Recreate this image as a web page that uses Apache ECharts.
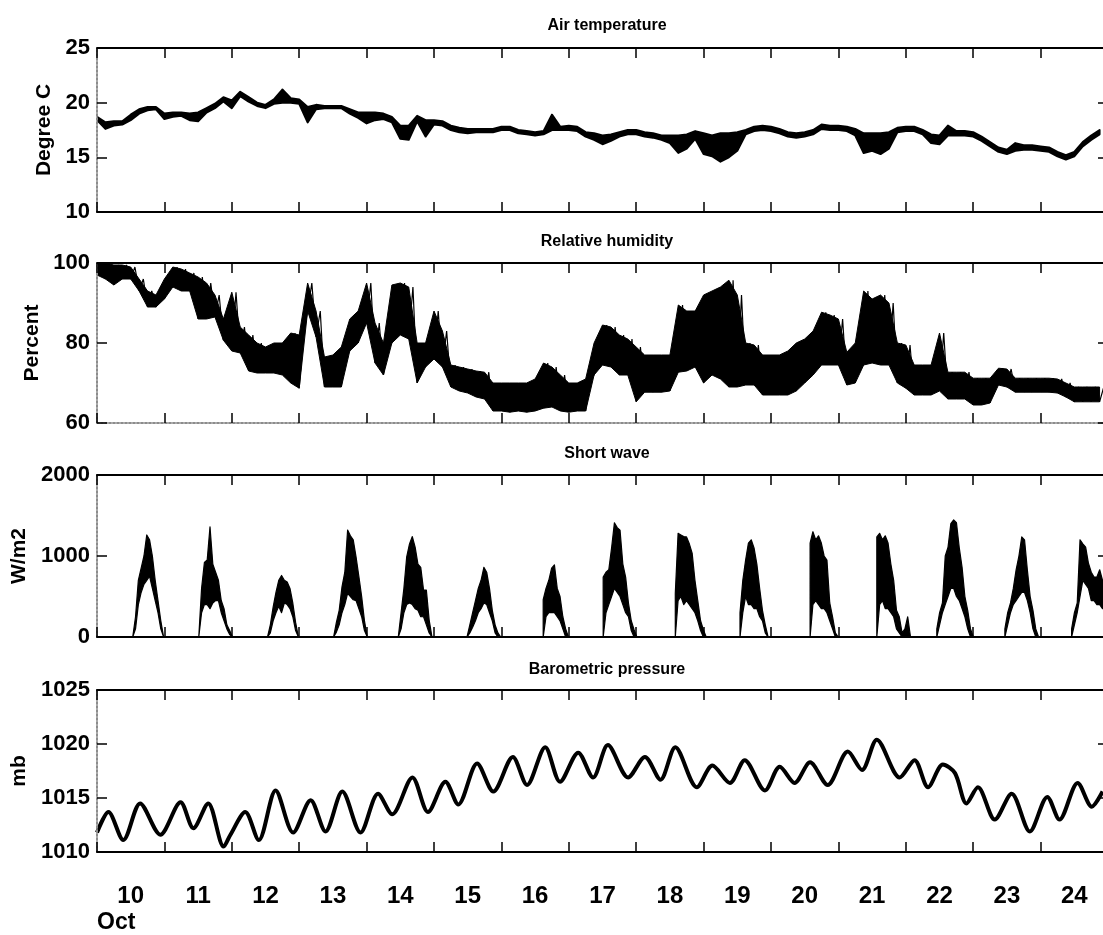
<!DOCTYPE html>
<html><head><meta charset="utf-8">
<script src="https://cdn.jsdelivr.net/npm/echarts/dist/echarts.min.js"></script>
<style>html,body{margin:0;padding:0;background:#fff}#c{width:1103px;height:935px}</style>
</head><body><div id="c"></div>
<script>
// ---------------- data ----------------
const panelTitles = ['Air temperature', 'Relative humidity', 'Short wave', 'Barometric pressure'];
const yNames = ['Degree C', 'Percent', 'W/m2', 'mb'];
const dayLabels = ['10','11','12','13','14','15','16','17','18','19','20','21','22','23','24'];
const monthLabel = 'Oct';

// time in days of October; samples every 3 h starting Oct 10 00:00
const sampleStartDay = 10;
const sampleStepHours = 3;

// Air temperature, lower / upper edge of the trace per 3-h sample (deg C)
const tempLo = [18.4,17.6,17.9,18.0,18.4,19.0,19.3,19.4,18.5,18.7,
  18.8,18.4,18.3,19.1,19.5,20.1,19.5,20.6,20.1,19.7,
  19.5,19.9,20.0,20.0,19.9,18.2,19.4,19.5,19.5,19.5,
  19.0,18.6,18.1,18.4,18.5,18.2,16.7,16.6,18.3,16.9,
  18.0,17.9,17.5,17.3,17.2,17.3,17.3,17.3,17.5,17.5,
  17.2,17.1,17.0,17.1,17.5,17.5,17.5,17.4,16.9,16.6,
  16.2,16.5,16.9,17.1,17.1,16.9,16.8,16.6,16.3,15.4,
  15.8,16.7,15.3,15.1,14.6,15.0,15.6,17.1,17.4,17.5,
  17.4,17.2,16.9,16.8,16.9,17.1,17.6,17.5,17.5,17.4,
  17.0,15.4,15.6,15.3,15.8,17.3,17.4,17.4,17.1,16.3,
  16.2,17.0,17.0,17.0,16.9,16.5,16.0,15.5,15.3,15.6,
  15.7,15.7,15.6,15.5,15.1,14.8,15.1,16.0,16.6,17.1];
const tempHi = [18.7,18.2,18.3,18.3,18.9,19.4,19.6,19.6,19.0,19.1,
  19.1,19.0,19.1,19.5,19.9,20.5,20.2,21.0,20.5,20.0,
  19.8,20.3,21.2,20.4,20.3,19.6,19.8,19.7,19.7,19.7,
  19.4,19.1,19.1,19.1,19.0,18.7,17.9,17.9,18.8,18.4,
  18.4,18.3,17.9,17.7,17.6,17.6,17.6,17.6,17.8,17.8,
  17.5,17.4,17.3,17.4,18.9,17.8,17.9,17.8,17.3,17.2,
  17.0,17.1,17.3,17.5,17.5,17.3,17.2,17.0,17.0,17.0,
  17.1,17.4,17.2,17.0,17.2,17.2,17.3,17.5,17.8,17.9,
  17.8,17.6,17.3,17.2,17.3,17.5,18.0,17.9,17.9,17.8,
  17.6,17.2,17.2,17.2,17.3,17.7,17.8,17.8,17.5,17.1,
  17.0,17.9,17.4,17.4,17.3,16.9,16.4,15.9,15.7,16.3,
  16.1,16.1,16.0,15.9,15.5,15.2,15.5,16.4,17.0,17.5];

// Relative humidity, lower / upper edge per 3-h sample (%)
const humLo = [97,96,94.5,96,96,93,89,89,91,94,
  93,93,86,86,86.5,80.7,78,77.5,73,72.5,
  72.5,72.5,72,70,68.7,88,81.5,69,69,69,
  78,80,85,75,72,80,82,81,70,74,
  76,74,69,68,67.5,66.5,66,63,63,62.7,
  63,62.7,63,63.7,64,63,62.7,63,63,72,
  74.5,74,72,72,65.3,67.7,67.7,67.7,68,72.7,
  73,74,70,72,71,69,69,69.5,69.5,67,
  67,67,67,68,70,72,74.5,74.5,74.5,69.5,
  70,74.5,75,74.5,74.5,70,68.7,67,67,67,
  68,66,66,66,64.5,64.5,65,69.5,69,67.7,
  67.7,67.7,67.7,67.7,67.5,66.5,65.3,65.3,65.3,65.3];
const humHi = [100,100,99.5,99.5,99,96,93,92,96,99,
  98.5,97.5,96.5,95,92,86,92.7,84,82,80,
  79,80,80,82.5,82,95,88,76.5,77,79,
  86,88,95,85,80,94.5,95,94,80,80,
  88,83,74.5,74,73.5,73,72.7,70,70,70,
  70,70,71,75,74,72,70,70,71,80,
  84.5,84,82,81,79,77,77,77,77,89.5,
  88,88,92,93,94,95.7,92,80,79.5,77,
  77,77,78,80,81,83,87.7,87,86,77.7,
  80,93,91,92,90,80,79.5,74.5,74.5,74.5,
  82.5,72.7,72.7,72.7,71.2,71.2,71.2,73.7,73.5,71.2,
  71.2,71.2,71.2,71.2,71,70,69,69,69,69];

// Short wave: sunrise time of each day and hourly lower / upper edge (W/m2)
const swRise = [10.53,11.51,12.53,13.51,14.47,15.49,16.62,17.51,18.58,19.54,20.58,21.57,22.46,23.47,24.46];
const swHi = [
  [0,250,700,850,1000,1260,1200,1000,700,450,200,0],
  [0,600,920,950,1360,900,800,700,450,350,150,80,0],
  [0,150,370,550,700,760,700,680,600,420,180,0],
  [0,180,330,620,800,1320,1250,1200,990,750,500,200,0],
  [0,300,600,990,1150,1240,1110,900,860,580,580,210,0],
  [0,150,300,450,600,700,860,800,600,330,150,50,0],
  [460,600,700,850,890,600,500,250,100,0],
  [740,800,830,1100,1410,1350,1320,900,740,420,200,90,0],
  [540,1280,1260,1240,1235,1150,1035,700,450,200,90,0],
  [300,700,950,1160,1200,1100,900,600,330,150,0],
  [1160,1300,1200,1250,1160,1000,950,420,250,50,0],
  [1235,1280,1200,1250,1160,900,700,330,250,50,100,250,0],
  [100,300,420,1000,1110,1400,1445,1410,1100,860,500,330,100,0],
  [100,300,420,600,830,1000,1235,1200,830,500,330,100,0],
  [100,300,420,1200,1150,1110,910,800,740,740,830,700]
];
const swLo = [
  [0,100,400,550,650,700,750,600,450,300,100,0],
  [0,300,400,400,350,420,450,450,300,200,100,30,0],
  [0,50,200,300,380,300,420,400,350,250,80,0],
  [0,60,150,300,400,540,500,460,450,350,250,80,0],
  [0,100,300,400,420,400,350,330,250,250,150,50,0],
  [0,50,120,200,300,350,420,400,300,200,50,0,0],
  [0,250,300,300,300,250,200,100,0,0],
  [0,300,400,500,600,550,500,400,300,250,80,0,0],
  [0,450,500,400,450,400,350,300,200,80,0,0],
  [0,300,500,400,400,350,350,250,200,50,0],
  [0,400,450,400,350,350,300,200,100,0,0],
  [0,400,450,350,350,300,250,100,50,0,0,0,0],
  [0,150,300,400,500,600,600,500,450,350,250,100,0,0],
  [0,150,300,400,450,500,550,550,450,300,100,0,0],
  [0,150,300,500,700,650,600,450,450,400,400,350]
];

// Barometric pressure: turning points of the trace (day, mb)
const pressTime = [10.0,10.17,10.39,10.64,10.94,11.24,11.43,11.65,11.88,11.98,
  12.20,12.40,12.65,12.91,13.17,13.39,13.64,13.91,14.17,14.38,
  14.68,14.91,15.17,15.36,15.64,15.88,16.17,16.38,16.65,16.87,
  17.14,17.36,17.58,17.88,18.13,18.36,18.58,18.90,19.13,19.39,
  19.61,19.91,20.13,20.35,20.58,20.84,21.14,21.35,21.57,21.91,
  22.13,22.33,22.55,22.73,22.90,23.07,23.32,23.57,23.84,24.10,
  24.28,24.55,24.76,24.92];
const pressVal = [1011.8,1013.7,1011.1,1014.5,1011.6,1014.6,1012.2,1014.5,1010.5,1011.6,
  1013.7,1011.1,1015.7,1011.8,1014.8,1011.9,1015.6,1011.8,1015.4,1013.5,
  1016.9,1013.7,1016.5,1014.4,1018.2,1015.6,1018.8,1016.2,1019.7,1016.5,
  1019.2,1016.9,1019.9,1016.9,1018.8,1016.7,1019.7,1016.0,1018.0,1016.4,
  1018.5,1015.7,1017.9,1016.4,1018.3,1016.2,1019.3,1017.6,1020.4,1016.9,
  1018.5,1016.0,1018.1,1017.3,1014.5,1016.0,1013.0,1015.4,1011.9,1015.1,
  1013.0,1016.4,1014.2,1015.6];

// y axis ranges
const yMin = [10, 60, 0, 1010];
const yMax = [25, 100, 2000, 1025];
const yStep = [5, 20, 1000, 5];

// ---------------- build ----------------
const step = sampleStepHours / 24;
const sampleTimes = tempLo.map((_, i) => sampleStartDay + i * step);

function edgeTrace(lo, hi, start, stepDays) {
  const out = [];
  for (let i = 0; i < lo.length; i++) {
    out.push([start + i * stepDays, lo[i]]);
    out.push([start + (i + 0.5) * stepDays, hi[i]]);
  }
  return out;
}

// short wave: all samples in one list (night = 0, zero at each sunrise)
const swT = [sampleStartDay], swL = [0], swH = [0];
for (let d = 0; d < swRise.length; d++) {
  swT.push(swRise[d]); swL.push(0); swH.push(0);
  for (let k = 0; k < swLo[d].length; k++) {
    swT.push(swRise[d] + k / 24);
    swL.push(swLo[d][k]);
    swH.push(swHi[d][k]);
  }
}

const FONT = '"Liberation Sans", Arial, Helvetica, sans-serif';
const gridTops = [48, 263, 475, 690];
const gridHeights = [164, 160, 162, 162];
const nameGaps = [40, 52, 63, 64];
const titleTops = [13, 229, 441, 657];
const leftLine = {color: '#8c8c8c', width: 2, type: 'dotted'};
const blackLine = {color: '#000', width: 2};

const grids = gridTops.map((t, i) => ({
  left: 97, top: t, width: 1011, height: gridHeights[i],
  containLabel: false, outerBoundsMode: 'none'
}));
const xAxes = [];
const yAxes = [];
for (let p = 0; p < 4; p++) {
  ['bottom', 'top'].forEach(pos => {
    xAxes.push({
      gridIndex: p, type: 'value', min: 10, max: 25, interval: 1, position: pos, z: 5,
      axisLine: {onZero: false, lineStyle: (p === 1 && pos === 'bottom') ? leftLine : blackLine},
      axisTick: {inside: true, length: 10, lineStyle: {color: '#000', width: 1.5}},
      axisLabel: {show: false}, splitLine: {show: false}
    });
  });
  yAxes.push({
    gridIndex: p, type: 'value', min: yMin[p], max: yMax[p], interval: yStep[p], position: 'left', z: 5,
    name: yNames[p], nameLocation: 'middle', nameGap: nameGaps[p], nameRotate: 90,
    nameTextStyle: {fontSize: 21, fontWeight: 'bold', color: '#000', fontFamily: FONT},
    axisLine: {show: true, onZero: false, lineStyle: leftLine},
    axisTick: {show: true, inside: true, length: 10, lineStyle: {color: '#000', width: 1.5}},
    axisLabel: {margin: 7, fontSize: 22, fontWeight: 'bold', color: '#000', fontFamily: FONT,
      formatter: v => String(v)},
    splitLine: {show: false}
  });
  yAxes.push({
    gridIndex: p, type: 'value', min: yMin[p], max: yMax[p], interval: yStep[p], position: 'right', z: 5,
    axisLine: {show: true, onZero: false, lineStyle: blackLine},
    axisTick: {show: true, inside: true, length: 10, lineStyle: {color: '#000', width: 1.5}},
    axisLabel: {show: false}, splitLine: {show: false}
  });
}
// day labels, centred on each day
xAxes.push({
  gridIndex: 3, type: 'value', min: 10, max: 25, interval: 0.5, position: 'bottom',
  axisLine: {show: false}, axisTick: {show: false}, splitLine: {show: false},
  axisLabel: {
    margin: 32, fontSize: 24, fontWeight: 'bold', color: '#000', fontFamily: FONT,
    showMinLabel: true, showMaxLabel: true,
    formatter: v => (Math.abs(v % 1 - 0.5) < 1e-6 ? (dayLabels[Math.floor(v) - 10] || '') : '')
  }
});

function base(idx) {
  return {xAxisIndex: idx * 2, yAxisIndex: idx * 2, silent: true, animation: false};
}
// filled band between the lower and upper edge, drawn through the axis scales
function band(idx, times, lo, hi, w) {
  return Object.assign(base(idx), {
    type: 'custom', clip: true,
    data: [[times[0], lo[0]]],
    encode: {x: 0, y: 1},
    renderItem: function (params, api) {
      const pts = [];
      for (let i = 0; i < times.length; i++) pts.push(api.coord([times[i], lo[i]]));
      for (let i = times.length - 1; i >= 0; i--) pts.push(api.coord([times[i], hi[i]]));
      return {type: 'polygon', shape: {points: pts},
        style: {fill: '#000', stroke: '#000', lineWidth: w, lineJoin: 'round'}};
    }
  });
}
function line(idx, data, w, smooth) {
  return Object.assign(base(idx), {type: 'line', data: data, symbol: 'none', showSymbol: false,
    smooth: smooth || false, lineStyle: {color: '#000', width: w}});
}

const series = [
  band(0, sampleTimes, tempLo, tempHi, 2),
  band(1, sampleTimes, humLo, humHi, 1),
  line(1, edgeTrace(humLo, humHi, sampleStartDay, step), 1.2),
  band(2, swT, swL, swH, 1.2),
  line(3, pressTime.map((t, i) => [t, pressVal[i]]), 4, 0.3)
];

const chart = echarts.init(document.getElementById('c'), null, {renderer: 'canvas'});
chart.setOption({
  backgroundColor: '#fff',
  animation: false,
  title: panelTitles.map((t, i) => ({
    text: t, left: 602, top: titleTops[i], textAlign: 'center',
    textStyle: {fontSize: 16, fontWeight: 'bold', color: '#000', fontFamily: FONT}
  })),
  grid: grids,
  xAxis: xAxes,
  yAxis: yAxes,
  graphic: [{
    type: 'text', left: 97, top: 911,
    style: {text: monthLabel, fontSize: 23, fontWeight: 'bold', fill: '#000', fontFamily: FONT}
  }],
  series: series
});
</script></body></html>
